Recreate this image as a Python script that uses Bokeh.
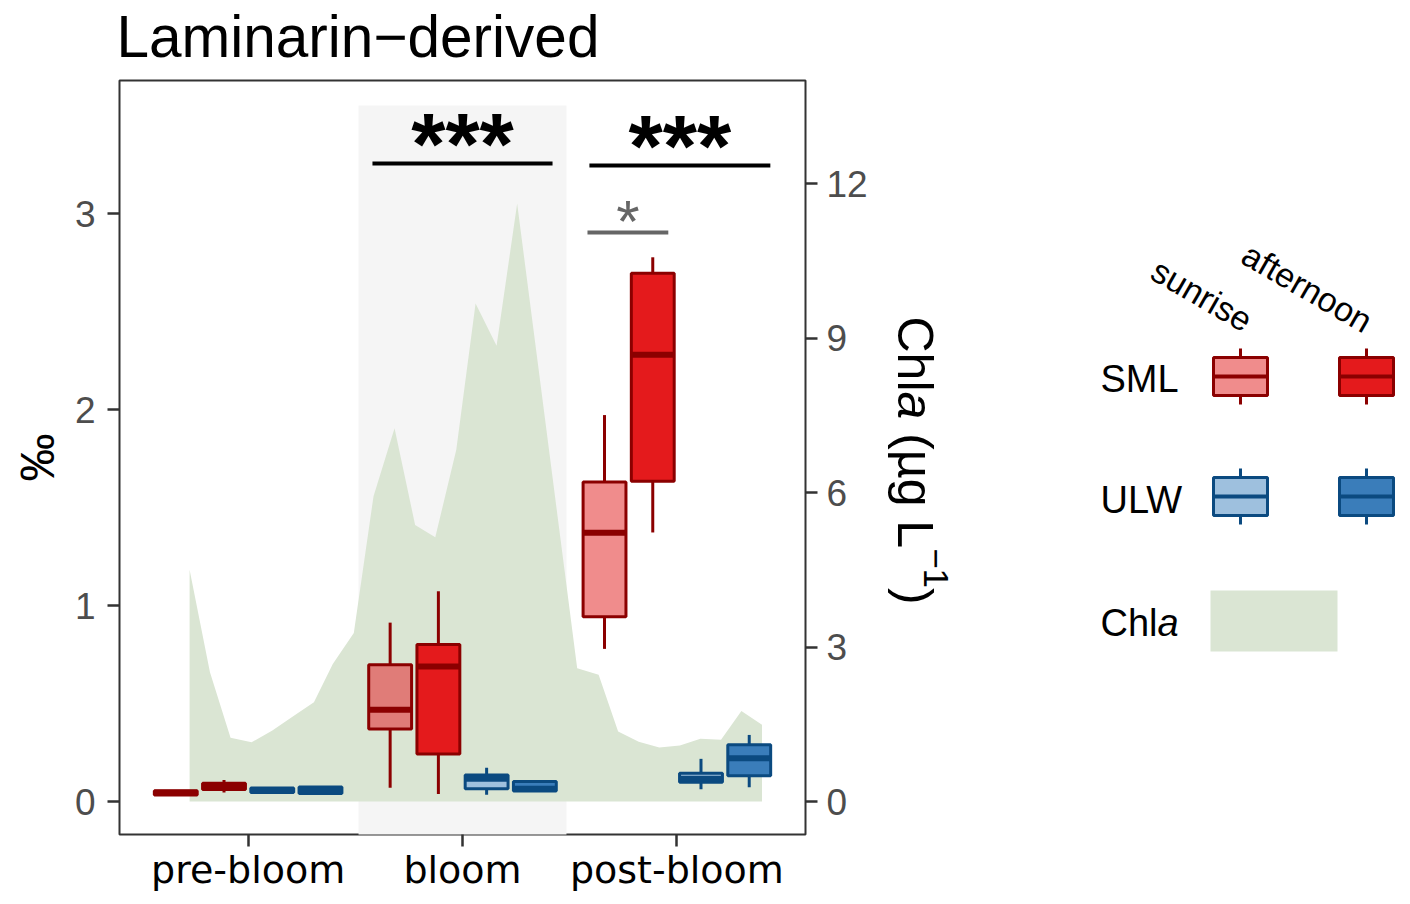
import math
from bokeh.plotting import figure
from bokeh.models import Range1d, LinearAxis, FixedTicker
from bokeh.layouts import row, column
from bokeh.embed import file_html
from bokeh.resources import INLINE
from bokeh.core.properties import value

# ---------------- data ----------------
phases = ["pre-bloom", "bloom", "post-bloom"]
series = ["SML sunrise", "SML afternoon", "ULW sunrise", "ULW afternoon"]

# (lower whisker, Q1, median, Q3, upper whisker) per phase, in permil
sml_sunrise = [(0.030, 0.033, 0.045, 0.055, 0.058),
               (0.070, 0.370, 0.468, 0.698, 0.913),
               (0.779, 0.943, 1.371, 1.630, 1.972)]
sml_afternoon = [(0.046, 0.061, 0.080, 0.094, 0.110),
                 (0.039, 0.243, 0.689, 0.802, 1.073),
                 (1.373, 1.634, 2.280, 2.695, 2.777)]
ulw_sunrise = [(0.042, 0.046, 0.058, 0.069, 0.072),
               (0.035, 0.065, 0.117, 0.135, 0.173),
               (0.063, 0.098, 0.116, 0.145, 0.218)]
ulw_afternoon = [(0.040, 0.041, 0.058, 0.074, 0.076),
                 (0.050, 0.054, 0.066, 0.103, 0.105),
                 (0.073, 0.132, 0.221, 0.290, 0.340)]

# Chl a time series (position on the phase axis, ug/L)
chla_pos = [0.727, 0.822, 0.918, 1.016, 1.113, 1.205, 1.307, 1.395, 1.493,
            1.585, 1.683, 1.779, 1.873, 1.971, 2.061, 2.159, 2.255, 2.352,
            2.449, 2.535, 2.635, 2.726, 2.822, 2.918, 3.014, 3.110, 3.206,
            3.301, 3.397]
chla = [4.50, 2.51, 1.24, 1.15, 1.38, 1.64, 1.93, 2.67, 3.27,
        5.93, 7.25, 5.37, 5.13, 6.83, 9.67, 8.85, 11.61, 8.49,
        5.36, 2.59, 2.46, 1.36, 1.16, 1.05, 1.09, 1.22, 1.20,
        1.76, 1.49]

left_ticks = [0, 1, 2, 3]
right_ticks = [0, 3, 6, 9, 12]

# significance brackets
sig_x0 = [1.580, 2.592, 2.583]
sig_x1 = [2.420, 3.436, 2.960]
sig_y = [3.255, 3.245, 2.903]
sig_labels = ["***", "***", "*"]

# ---------------- style ----------------
FONT = "Liberation Sans"
stats = [sml_sunrise, sml_afternoon, ulw_sunrise, ulw_afternoon]
fills = ["#F08C8C", "#E41A1C", "#9EC0DE", "#3A7DBA"]
edges = ["#8B0000", "#8B0000", "#0B4A80", "#0B4A80"]
offsets = [-0.3375, -0.1125, 0.1125, 0.3375]
box_w = 0.2
shade_fill = "#F5F5F5"
chla_fill = "#DAE5D3"

# ---------------- title strip (page coordinates) ----------------
tfig = figure(width=1408, height=78, x_range=Range1d(0, 1408), y_range=Range1d(78, 0),
              output_backend="svg", toolbar_location=None,
              x_axis_location=None, y_axis_location=None, min_border=0)
tfig.grid.visible = False
tfig.outline_line_color = None
tfig.text(x=[116], y=[36], text=["Laminarin\u2212derived"], text_font=value(FONT),
          text_font_size="58.5px", text_color="black", text_align="left",
          text_baseline="alphabetic")

# ---------------- main plot ----------------
p = figure(width=880, height=822, x_range=Range1d(0.4, 3.6), y_range=Range1d(-0.168, 3.679),
           output_backend="svg", toolbar_location=None,
           min_border_left=119, min_border_right=75, min_border_top=2, min_border_bottom=66)
p.grid.visible = False
p.outline_line_color = "#333333"
p.outline_line_width = 2
p.extra_y_ranges = {"chla": Range1d(-0.64, 14.0)}

# bloom shading
bi = phases.index("bloom") + 1
p.quad(left=[bi - 0.485], right=[bi + 0.485], bottom=[-1], top=[3.551],
       fill_color=shade_fill, line_color=None)

# Chl a area
p.varea(x=chla_pos, y1=[0] * len(chla), y2=chla, fill_color=chla_fill,
        y_range_name="chla")

# boxes
for s, (st, fc, ec, off) in enumerate(zip(stats, fills, edges, offsets)):
    xs = [i + 1 + off for i in range(len(phases))]
    lo = [v[0] for v in st]
    q1 = [v[1] for v in st]
    med = [v[2] for v in st]
    q3 = [v[3] for v in st]
    hi = [v[4] for v in st]
    fcs = [fc] * len(phases)
    if series[s] == "SML sunrise":
        fcs[phases.index("bloom")] = "#E07C78"
    p.segment(x0=xs, y0=lo, x1=xs, y1=q1, line_color=ec, line_width=3)
    p.segment(x0=xs, y0=q3, x1=xs, y1=hi, line_color=ec, line_width=3)
    p.quad(left=[x - box_w / 2 for x in xs], right=[x + box_w / 2 for x in xs],
           bottom=q1, top=q3, fill_color=fcs, line_color=ec, line_width=3)
    p.segment(x0=[x - box_w / 2 for x in xs], y0=med, x1=[x + box_w / 2 for x in xs],
              y1=med, line_color=ec, line_width=6)

# significance
sig_colors = ["black", "black", "#666666"]
for x0, x1, y, lab, c in zip(sig_x0, sig_x1, sig_y, sig_labels, sig_colors):
    p.segment(x0=[x0], y0=[y], x1=[x1], y1=[y], line_color=c, line_width=4)
    big = lab == "***"
    p.text(x=[(x0 + x1) / 2], y=[y], text=[lab], text_font=value(FONT),
           text_font_size="88px" if big else "60px",
           text_font_style="bold" if big else "normal",
           text_color=c, text_align="center", text_baseline="alphabetic",
           y_offset=-20.5 if big else -11.5)

# axes
p.xaxis.ticker = FixedTicker(ticks=[1, 2, 3])
p.xaxis.major_label_overrides = {i + 1: ph for i, ph in enumerate(phases)}
p.xaxis.major_label_text_font = "DejaVu Sans"
p.xaxis.major_label_text_font_size = "38px"
p.xaxis.major_label_text_color = "black"
p.xaxis.major_label_standoff = 1

p.yaxis.ticker = FixedTicker(ticks=left_ticks)
p.yaxis.axis_label = "\u2030"
p.yaxis.axis_label_text_font = FONT
p.yaxis.axis_label_text_font_size = "48px"
p.yaxis.axis_label_text_font_style = "normal"
p.yaxis.axis_label_text_color = "black"
p.yaxis.axis_label_standoff = 8
p.yaxis.major_label_standoff = 12

ra = LinearAxis(y_range_name="chla", ticker=FixedTicker(ticks=right_ticks))
ra.major_label_standoff = 9
p.add_layout(ra, "right")

for ax in [p.xaxis[0], p.yaxis[0], ra]:
    ax.axis_line_color = None
    ax.major_tick_line_color = "#333333"
    ax.major_tick_line_width = 2.5
    ax.major_tick_out = 12
    ax.major_tick_in = 0
    ax.minor_tick_line_color = None
for ax in [p.yaxis[0], ra]:
    ax.major_label_text_font = FONT
    ax.major_label_text_font_size = "37px"
    ax.major_label_text_color = "#4D4D4D"

# ---------------- legend / right axis title panel (page coordinates) ----------------
lg = figure(width=528, height=822, x_range=Range1d(880, 1408), y_range=Range1d(834, 80),
            output_backend="svg", toolbar_location=None,
            x_axis_location=None, y_axis_location=None,
            min_border_left=0, min_border_right=0, min_border_top=2, min_border_bottom=66)
lg.grid.visible = False
lg.outline_line_color = None

# right axis title: Chl a (ug L^-1), rotated
fs = 50
pieces = [("Chl", "normal", fs, 0.0, 1.5),
          ("a", "italic", fs, 0.0, 0.556 + 0.278),
          ("(\u00b5g L", "normal", fs, 0.0, 2.299),
          ("\u22121", "normal", 35, 21.0, 1.14),
          (")", "normal", fs, 0.0, 0.333)]
yy = 316
for txt, style, size, dx, em in pieces:
    lg.text(x=[914 + dx], y=[yy], text=[txt], text_font=value(FONT),
            text_font_size=f"{size}px", text_font_style=style, text_color="black",
            text_align="left", text_baseline="alphabetic", angle=-math.pi / 2)
    yy += em * size

# legend header
lg.text(x=[1249, 1369], y=[322, 323], text=["sunrise", "afternoon"], text_font=value(FONT),
        text_font_size="34px", text_color="black", text_align="right",
        text_baseline="alphabetic", angle=-math.pi / 6)

# legend rows
row_labels = ["SML", "ULW"]
row_base = [378, 499]
row_mid = [376, 496]
col_cx = [1240, 1366]
for r, (lab, yb, ym) in enumerate(zip(row_labels, row_base, row_mid)):
    lg.text(x=[1100], y=[yb], text=[lab], text_font=value(FONT), text_font_size="38px",
            text_color="black", text_align="left", text_baseline="alphabetic")
    for c, cx in enumerate(col_cx):
        k = 2 * r + c
        lg.segment(x0=[cx, cx], y0=[ym - 28, ym + 19], x1=[cx, cx], y1=[ym - 19, ym + 28],
                   line_color=edges[k], line_width=3)
        lg.quad(left=[cx - 27], right=[cx + 27], top=[ym - 19], bottom=[ym + 19],
                fill_color=fills[k], line_color=edges[k], line_width=3)
        lg.segment(x0=[cx - 27], y0=[ym], x1=[cx + 27], y1=[ym],
                   line_color=edges[k], line_width=4)

lg.text(x=[1100], y=[622], text=["Chl"], text_font=value(FONT), text_font_size="38px",
        text_color="black", text_align="left", text_baseline="alphabetic")
lg.text(x=[1100 + 1.5 * 38], y=[622], text=["a"], text_font=value(FONT), text_font_size="38px",
        text_font_style="italic", text_color="black", text_align="left",
        text_baseline="alphabetic")
lg.quad(left=[1210], right=[1337], top=[590], bottom=[651], fill_color=chla_fill,
        line_color=None)

layout = column(tfig, row(p, lg))
open("out.html", "w").write(file_html(layout, INLINE))
